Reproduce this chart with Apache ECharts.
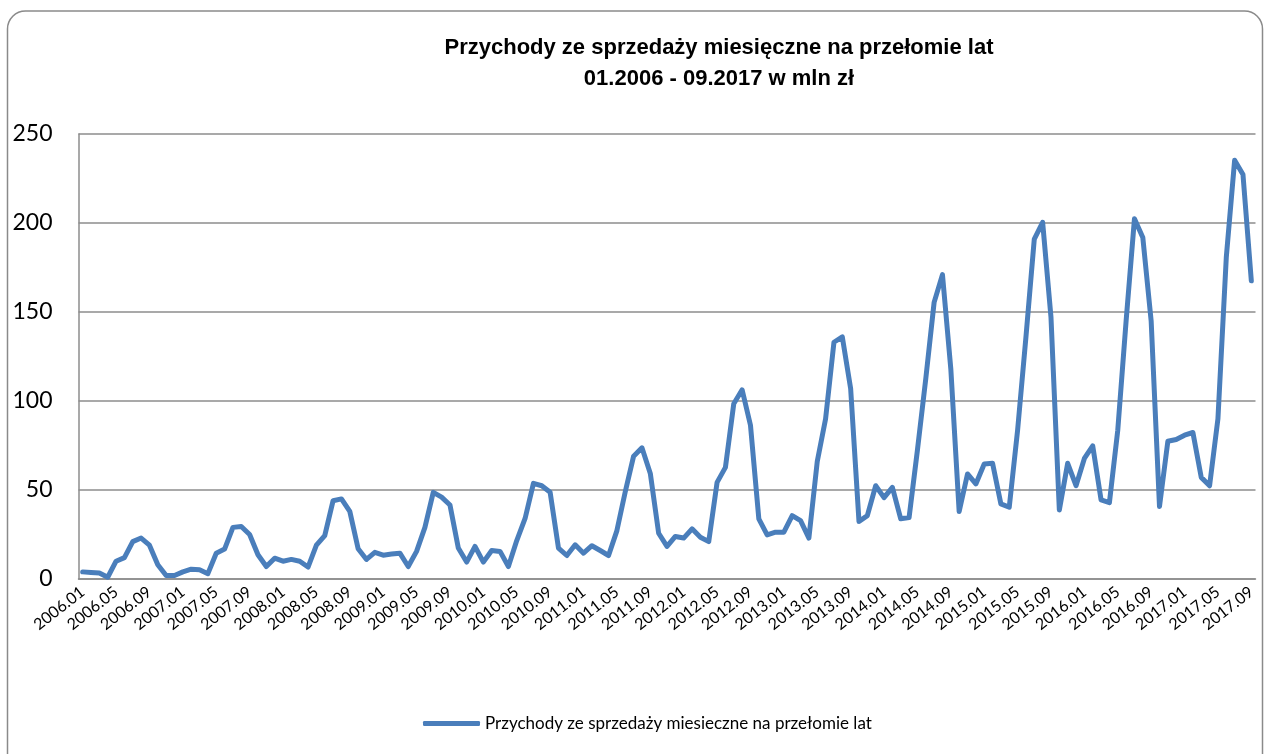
<!DOCTYPE html>
<html>
<head>
<meta charset="utf-8">
<script src="https://cdn.jsdelivr.net/npm/echarts@6/dist/echarts.min.js"></script>
<style>
html,body{margin:0;padding:0;background:#fff;}
#chart{width:1271px;height:754px;}
</style>
</head>
<body>
<div id="chart"></div>
<script>
// Data (mln zł), monthly 2006.01 - 2017.09
const years = [2006, 2007, 2008, 2009, 2010, 2011, 2012, 2013, 2014, 2015, 2016, 2017];
const monthsLastYear = 9;
const v2006 = [4, 3.7, 3.4, 1, 10, 12, 21, 23, 19, 8, 2, 2];
const v2007 = [4, 5.5, 5.2, 3, 14.5, 16.8, 29, 29.5, 25, 13.6, 7, 11.7];
const v2008 = [10, 11, 10, 6.7, 19, 24.4, 44, 45, 38, 17, 11, 15];
const v2009 = [13.4, 14, 14.5, 7, 15.5, 29, 48.7, 46, 41.6, 17.4, 9.5, 18.3];
const v2010 = [9.5, 16, 15.5, 7, 21.6, 34, 53.7, 52.4, 48.7, 17.4, 13.2, 19.2];
const v2011 = [14.5, 18.7, 16, 13.2, 27.2, 49, 69, 73.7, 59.3, 25.7, 18.3, 23.9];
const v2012 = [23, 28.2, 23.5, 21, 54.3, 62.7, 98.5, 106.3, 86.4, 33.8, 24.8, 26.3];
const v2013 = [26.3, 35.6, 32.8, 23, 66, 90, 133, 136, 107, 32.3, 35.6, 52.4];
const v2014 = [45.7, 51.5, 33.8, 34.5, 72.4, 112.5, 155.4, 171, 118, 37.9, 59, 53.4];
const v2015 = [64.6, 65, 42.2, 40.3, 83.6, 136, 191, 200.4, 147, 38.8, 65, 52.4];
const v2016 = [67.7, 74.8, 44.4, 42.9, 83.6, 145, 202.4, 191.8, 145, 40.7, 77.4, 78.4];
const v2017 = [80.8, 82.3, 57.1, 52.4, 90, 180.6, 235.3, 227.2, 167.5];

const seriesName = 'Przychody ze sprzedaży miesieczne na przełomie lat';
const titleText = 'Przychody ze sprzedaży miesięczne na przełomie lat\n01.2006 - 09.2017 w mln zł';
const yTicks = [0, 50, 100, 150, 200, 250];

const values = [].concat(v2006, v2007, v2008, v2009, v2010, v2011, v2012, v2013, v2014, v2015, v2016, v2017);
const categories = [];
years.forEach((y, yi) => {
  const n = yi === years.length - 1 ? monthsLastYear : 12;
  for (let m = 1; m <= n; m++) categories.push(y + '.' + (m < 10 ? '0' + m : m));
});

const chart = echarts.init(document.getElementById('chart'), null, {renderer: 'canvas'});
const gridColor = '#8c8c8c';
chart.setOption({
  backgroundColor: '#ffffff',
  animation: false,
  graphic: [{
    type: 'rect',
    shape: {x: 7.5, y: 11, width: 1255, height: 800, r: 18},
    style: {fill: 'none', stroke: '#8a8a8a', lineWidth: 1.5},
    silent: true, z: -10
  }],
  title: {
    text: titleText,
    left: 719,
    top: 32,
    padding: 0,
    textAlign: 'center',
    textStyle: {
      fontFamily: 'Liberation Sans, Arial, sans-serif',
      fontWeight: 'bold',
      fontSize: 22,
      lineHeight: 31,
      color: '#000'
    }
  },
  legend: {
    data: [seriesName],
    left: 423,
    top: 715,
    padding: 0,
    itemWidth: 57,
    itemHeight: 5,
    icon: 'roundRect',
    textStyle: {fontFamily: 'Lato, sans-serif', fontSize: 17, color: '#000'}
  },
  grid: {left: 78.5, right: 15.5, top: 134, bottom: 175, containLabel: false},
  xAxis: {
    type: 'category',
    data: categories,
    boundaryGap: true,
    axisLine: {show: true, lineStyle: {color: gridColor, width: 1.5}},
    axisTick: {show: false},
    axisLabel: {
      interval: 3,
      rotate: 38,
      margin: 11,
      fontFamily: 'Lato, sans-serif',
      fontSize: 16,
      color: '#000'
    },
    splitLine: {show: false}
  },
  yAxis: {
    type: 'value',
    min: 0,
    max: 250,
    interval: 50,
    axisLine: {show: true, lineStyle: {color: gridColor, width: 1.5}},
    axisTick: {show: false},
    axisLabel: {
      margin: 26,
      fontFamily: 'Lato, sans-serif',
      fontSize: 23,
      color: '#000',
      formatter: (v) => yTicks.indexOf(v) >= 0 ? String(v) : ''
    },
    splitLine: {show: true, lineStyle: {color: gridColor, width: 1.5}}
  },
  series: [{
    name: seriesName,
    type: 'line',
    data: values,
    showSymbol: false,
    symbol: 'none',
    lineStyle: {color: '#4a7ebb', width: 5, join: 'round', cap: 'round'},
    itemStyle: {color: '#4a7ebb'}
  }]
});
</script>
</body>
</html>
